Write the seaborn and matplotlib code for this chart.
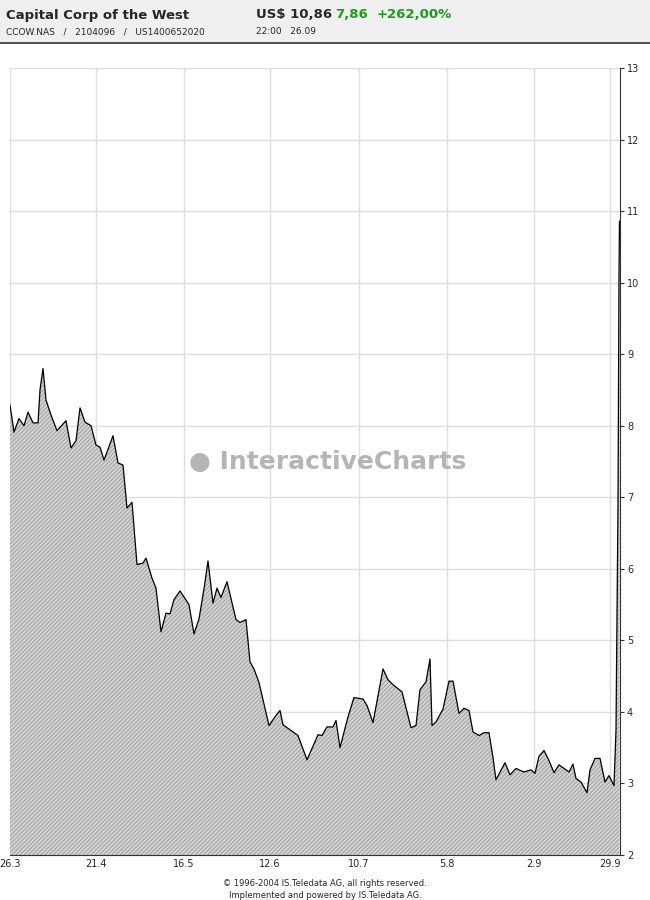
import matplotlib
matplotlib.use('Agg')
import matplotlib.pyplot as plt
import seaborn as sns
import pandas as pd

# price series (x = trading-day position)
days = [0, 4, 9, 14, 18, 23, 28, 30, 33, 36, 41, 47, 56, 61, 66, 70, 75, 81, 86, 90, 94,
        103, 108, 113, 117, 122, 127, 133, 136, 142, 146, 151, 156, 160, 164, 170, 179, 184,
        189, 194, 198, 203, 207, 211, 217, 226, 230, 236, 240, 244, 249, 253, 259, 266, 270,
        273, 288, 297, 308, 312, 317, 323, 326, 330, 338, 344, 353, 357, 363, 373, 378, 383,
        392, 401, 406, 410, 416, 420, 422, 426, 433, 439, 443, 449, 454, 459, 463, 469, 474,
        479, 483, 486, 495, 500, 506, 514, 521, 525, 529, 534, 539, 544, 549, 559, 563, 566,
        571, 577, 580, 585, 590, 595, 599, 604, 606, 607, 608, 608.5, 609, 609.5]
prices = [8.29, 7.91, 8.10, 8.00, 8.19, 8.04, 8.04, 8.50, 8.80, 8.36, 8.15, 7.93, 8.07, 7.69,
          7.79, 8.25, 8.05, 8.00, 7.73, 7.70, 7.52, 7.86, 7.48, 7.45, 6.85, 6.93, 6.06, 6.08,
          6.15, 5.87, 5.73, 5.12, 5.38, 5.37, 5.57, 5.69, 5.50, 5.09, 5.30, 5.72, 6.11, 5.52,
          5.73, 5.60, 5.82, 5.29, 5.25, 5.29, 4.70, 4.60, 4.41, 4.17, 3.81, 3.95, 4.02, 3.82,
          3.67, 3.33, 3.68, 3.67, 3.79, 3.79, 3.88, 3.50, 3.93, 4.20, 4.18, 4.09, 3.85, 4.60,
          4.45, 4.38, 4.28, 3.78, 3.81, 4.31, 4.42, 4.74, 3.81, 3.86, 4.04, 4.43, 4.43, 3.98,
          4.05, 4.02, 3.72, 3.67, 3.71, 3.71, 3.36, 3.05, 3.29, 3.12, 3.21, 3.16, 3.19, 3.14,
          3.38, 3.46, 3.32, 3.15, 3.26, 3.16, 3.27, 3.07, 3.02, 2.87, 3.19, 3.35, 3.35, 3.02,
          3.11, 2.97, 3.75, 5.35, 6.90, 8.50, 10.10, 10.86]
tick_days = [0, 86, 174, 260, 349, 437, 524, 600]
tick_labels = ['26.3', '21.4', '16.5', '12.6', '10.7', '5.8', '2.9', '29.9']
y_ticks = list(range(2, 14))

df = pd.DataFrame({'day': days, 'price': prices})

sns.set_style('white')
plt.rcParams['font.family'] = ['DejaVu Sans']
plt.rcParams['hatch.linewidth'] = 0.6

fig = plt.figure(figsize=(6.5, 9), dpi=100)

# header band
fig.patches.append(plt.Rectangle((0, 1 - 43 / 900), 1, 43 / 900, transform=fig.transFigure,
                                 facecolor='#efefef', edgecolor='none'))
fig.add_artist(plt.Line2D([0, 1], [1 - 43 / 900] * 2, color='#333333', lw=1.2, transform=fig.transFigure))
fig.text(6 / 650, 1 - 15 / 900, 'Capital Corp of the West', fontsize=9.5, weight='bold', va='center')
fig.text(6 / 650, 1 - 32 / 900, 'CCOW.NAS   /   2104096   /   US1400652020', fontsize=6.5, va='center')
fig.text(256 / 650, 1 - 15 / 900, 'US$ 10,86', fontsize=9.5, weight='bold', va='center')
fig.text(335 / 650, 1 - 15 / 900, '7,86', fontsize=9.5, weight='bold', color='#1a9c1a', va='center')
fig.text(377 / 650, 1 - 15 / 900, '+262,00%', fontsize=9.5, weight='bold', color='#1a9c1a', va='center')
fig.text(256 / 650, 1 - 32 / 900, '22:00   26.09', fontsize=6.5, va='center')

ax = fig.add_axes([10 / 650, 45 / 900, 610 / 650, 787 / 900])
ax.fill_between(df['day'], df['price'], 2, facecolor='#d2d2d2', edgecolor='#9a9a9a',
                hatch='////////', linewidth=0, zorder=2)
sns.lineplot(data=df, x='day', y='price', ax=ax, color='black', linewidth=0.9, zorder=3)

ax.set_xlim(0, 610)
ax.set_ylim(2, 13)
ax.set_xticks(tick_days)
ax.set_xticklabels(tick_labels, fontsize=7)
ax.set_yticks(y_ticks)
ax.set_yticklabels([str(v) for v in y_ticks], fontsize=7)
ax.yaxis.tick_right()
ax.tick_params(axis='y', length=3, pad=2, color='#333333')
ax.tick_params(axis='x', length=0, pad=3)
ax.grid(True, color='#dddddd', linewidth=1, zorder=0)
ax.set_axisbelow(True)
ax.set_xlabel('')
ax.set_ylabel('')
for side in ['top', 'left']:
    ax.spines[side].set_visible(False)
ax.spines['right'].set_color('#333333')
ax.spines['bottom'].set_color('#333333')

ax.text(0.52, 0.5, '\u25cf InteractiveCharts', transform=ax.transAxes, fontsize=18,
        weight='bold', color='#b5b5b5', ha='center', va='center', zorder=4)

fig.text(325 / 650, 1 - 884 / 900, '\u00a9 1996-2004 IS.Teledata AG, all rights reserved.',
         fontsize=6, ha='center', va='center')
fig.text(325 / 650, 1 - 895 / 900, 'Implemented and powered by IS.Teledata AG.',
         fontsize=6, ha='center', va='center')

fig.savefig('out.png', dpi=100)
